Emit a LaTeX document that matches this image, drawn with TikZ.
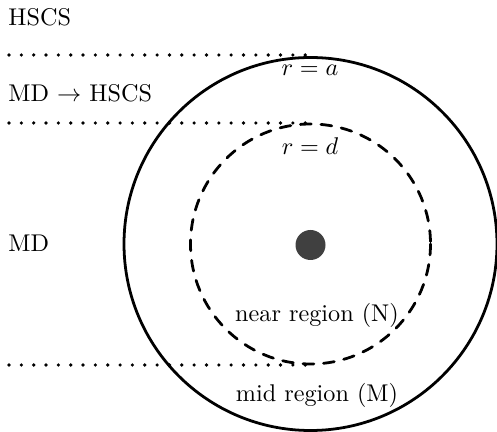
\documentclass[tikz,border=0pt]{standalone}
\begin{document}
\begin{tikzpicture}[x=0.4132pt,y=-0.4132pt,
  lbl/.style={inner sep=0pt,font=\normalsize},
  solidring/.style={line width=1.15pt},
  dashring/.style={line width=1.15pt,dash pattern=on 4.5pt off 4pt,line cap=round},
  dotline/.style={line width=1.5pt,dash pattern=on 0pt off 5.1pt,line cap=round}]
\useasboundingbox (0,0) rectangle (497,432);
\coordinate (c) at (310.5,244);
\draw[solidring] (c) circle [radius=186.5];
\draw[dashring] (c) circle [radius=120];
\node[circle,fill=black!75,minimum size=30*0.4132pt,inner sep=0pt] (core) at (310.5,245) {};
\coordinate (l1a) at (9,55);  \coordinate (l1b) at (312,55);
\coordinate (l2a) at (9,123); \coordinate (l2b) at (312,123);
\coordinate (l3a) at (9,365); \coordinate (l3b) at (312,365);
\draw[dotline] (l1a) -- (l1b);
\draw[dotline] (l2a) -- (l2b);
\draw[dotline] (l3a) -- (l3b);
\node[lbl,anchor=base west] (hscs) at (8,26) {HSCS};
\node[lbl,anchor=base west] (mdh) at (8,101.5) {MD $\rightarrow$ HSCS};
\node[lbl,anchor=base west] (md) at (8,251.5) {MD};
\node[lbl,anchor=base] (ra) at (310,76) {$r=a$};
\node[lbl,anchor=base] (rd) at (310,155) {$r=d$};
\node[lbl,anchor=base] (near) at (317,321.5) {near region (N)};
\node[lbl,anchor=base] (mid) at (317,401.5) {mid region (M)};
\end{tikzpicture}
\end{document}
